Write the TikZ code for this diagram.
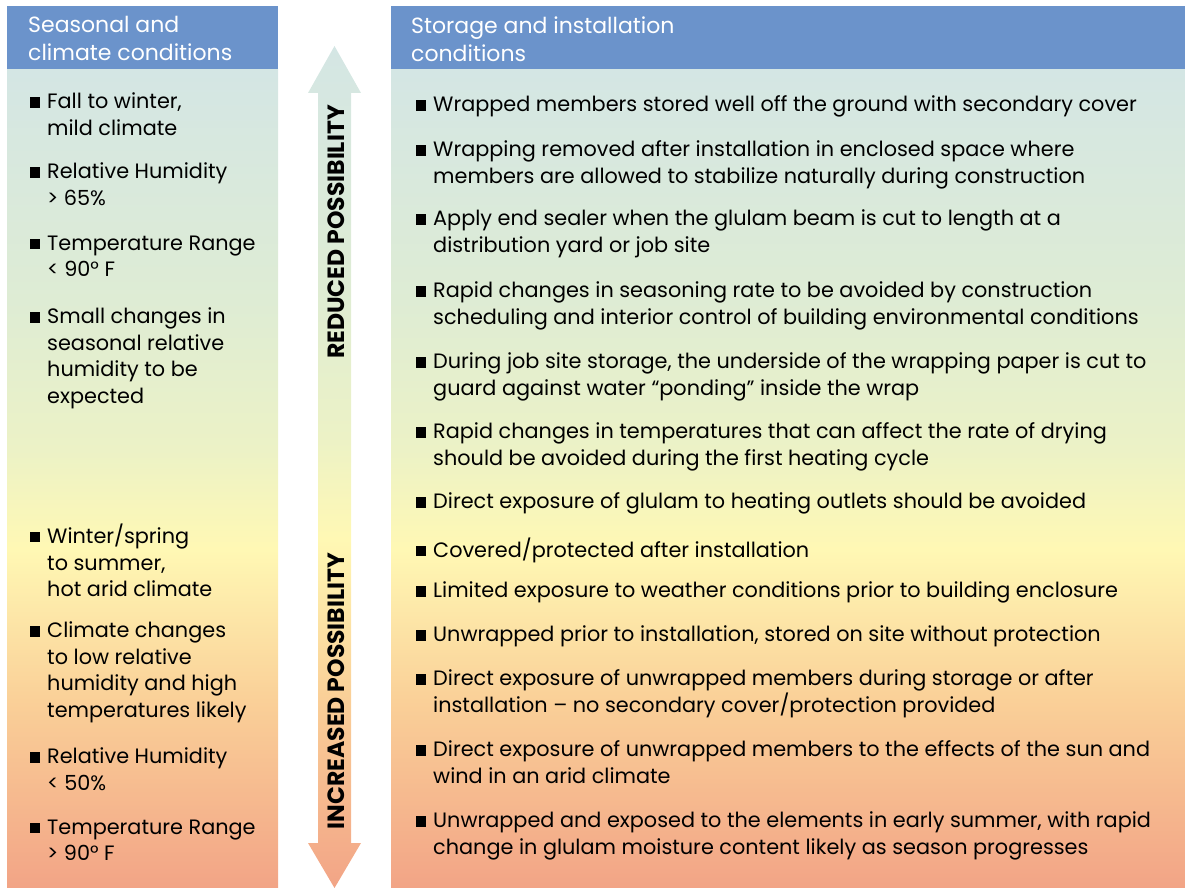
\documentclass[tikz,border=0pt]{standalone}
\usepackage{fontspec}
\setmainfont{Poppins}
\usetikzlibrary{positioning}
\definecolor{headblue}{RGB}{107,147,203}
\definecolor{fadetop}{RGB}{212,230,228}
\definecolor{fadegreen}{RGB}{222,236,212}
\definecolor{fadelime}{RGB}{236,242,198}
\definecolor{fadeyellow}{RGB}{255,248,180}
\definecolor{fadeorange}{RGB}{250,208,152}
\definecolor{fadebottom}{RGB}{242,164,134}
\pgfdeclareverticalshading{panelfade}{100bp}{color(0bp)=(fadebottom); color(25bp)=(fadebottom); color(36.5bp)=(fadeorange); color(45.7bp)=(fadeyellow); color(51.8bp)=(fadelime); color(60.9bp)=(fadegreen); color(75bp)=(fadetop); color(100bp)=(fadetop)}
\tikzset{head/.style={fill=headblue, draw=none}, body/.style={shading=panelfade, draw=none},
	headtext/.style={anchor=north west, inner sep=0, align=left, text=white, font=\fontsize{22}{28}\selectfont},
	item/.style={anchor=north west, inner sep=0, align=left, font=\fontsize{20.8}{26.7}\selectfont},
	sidetext/.style={rotate=90, inner sep=0, font=\bfseries\fontsize{23.5}{23.5}\selectfont}}
\newcommand{\sqbul}{\makebox[0pt][r]{\raisebox{1pt}{\rule{10.5pt}{10.5pt}}\hspace{7pt}}}

\begin{document}
\begin{tikzpicture}[x=1pt, y=-1pt]
	\useasboundingbox (0,0) rectangle (1185,888);
	% left panel
	\fill[head] (7,6) rectangle (278,70);
	\shade[body] (7,70) rectangle (278,888);
	\node[headtext] (SeasonHead) at (28,16.5) {Seasonal and\\climate conditions};
	\node[item] (Fall) at (47,92.5) {\sqbul Fall to winter,\\mild climate};
	\node[item] (HumHigh) at (47,162.5) {\sqbul Relative Humidity\\> 65\%};
	\node[item] (TempLow) at (47,235.5) {\sqbul Temperature Range\\< 90° F};
	\node[item] (SmallChange) at (47,307.5) {\sqbul Small changes in\\seasonal relative\\humidity to be\\expected};
	\node[item] (Winter) at (47,523.5) {\sqbul Winter/spring\\to summer,\\hot arid climate};
	\node[item] (ClimChange) at (47,621.5) {\sqbul Climate changes\\to low relative\\humidity and high\\temperatures likely};
	\node[item] (HumLow) at (47,747.5) {\sqbul Relative Humidity\\< 50\%};
	\node[item] (TempHigh) at (47,819.5) {\sqbul Temperature Range\\> 90° F};
	% middle arrow
	\shade[body] (334.5,46) -- (361,93) -- (351,93) -- (351,843) -- (361,843) -- (334.5,888)
		-- (308,843) -- (318,843) -- (318,93) -- (308,93) -- cycle;
	\node[sidetext] (Reduced) at (336,232) {REDUCED POSSIBILITY};
	\node[sidetext] (Increased) at (336,691) {INCREASED POSSIBILITY};
	% right panel
	\fill[head] (391,6) rectangle (1185,70);
	\shade[body] (391,70) rectangle (1185,888);
	\node[headtext] (StoreHead) at (411,16.5) {Storage and installation\\conditions};
	\node[item] (Wrapped) at (433,95.5) {\sqbul Wrapped members stored well off the ground with secondary cover};
	\node[item] (Removed) at (433,140.5) {\sqbul Wrapping removed after installation in enclosed space where\\members are allowed to stabilize naturally during construction};
	\node[item] (Sealer) at (433,209.5) {\sqbul Apply end sealer when the glulam beam is cut to length at a\\distribution yard or job site};
	\node[item] (Seasoning) at (433,281.5) {\sqbul Rapid changes in seasoning rate to be avoided by construction\\scheduling and interior control of building environmental conditions};
	\node[item] (Ponding) at (433,352.5) {\sqbul During job site storage, the underside of the wrapping paper is cut to\\guard against water “ponding” inside the wrap};
	\node[item] (Drying) at (433,422.5) {\sqbul Rapid changes in temperatures that can affect the rate of drying\\should be avoided during the first heating cycle};
	\node[item] (Outlets) at (433,492.5) {\sqbul Direct exposure of glulam to heating outlets should be avoided};
	\node[item] (Covered) at (433,537.5) {\sqbul Covered/protected after installation};
	\node[item] (Limited) at (433,581.5) {\sqbul Limited exposure to weather conditions prior to building enclosure};
	\node[item] (Unwrapped) at (433,625.5) {\sqbul Unwrapped prior to installation, stored on site without protection};
	\node[item] (NoCover) at (433,669.5) {\sqbul Direct exposure of unwrapped members during storage or after\\installation – no secondary cover/protection provided};
	\node[item] (SunWind) at (433,740.5) {\sqbul Direct exposure of unwrapped members to the effects of the sun and\\wind in an arid climate};
	\node[item] (Elements) at (433,811.5) {\sqbul Unwrapped and exposed to the elements in early summer, with rapid\\change in glulam moisture content likely as season progresses};
\end{tikzpicture}
\end{document}
